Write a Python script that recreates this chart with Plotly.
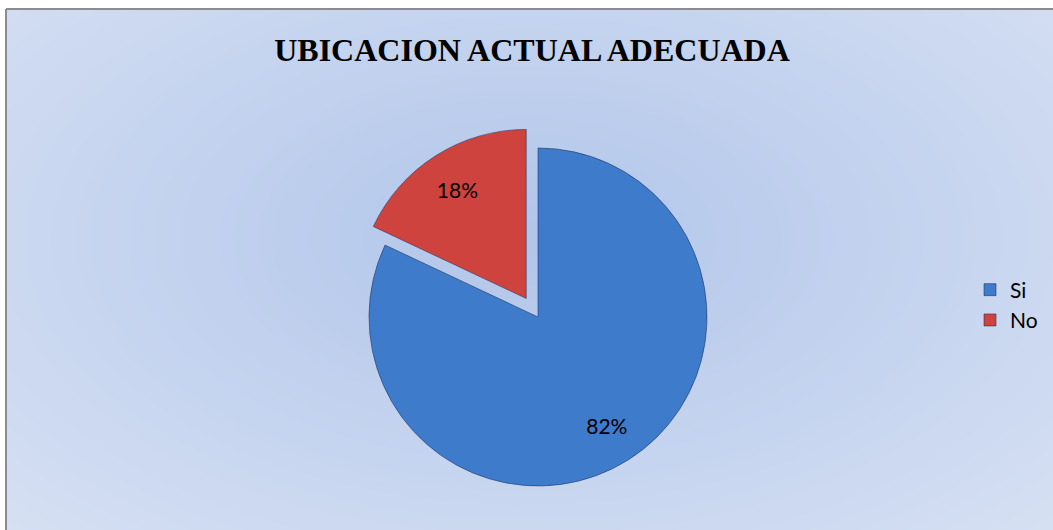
import plotly.graph_objects as go

labels = ["Si", "No"]
values = [82, 18]
colors = ["#3F7BCB", "#CF433E"]
pulls = [0, 0.13]

W, H = 1053, 530
dom = dict(x=[347 / W, 729 / W], y=[1 - 508 / H, 1 - 126 / H])

fig = go.Figure()
fig.add_trace(go.Pie(
    labels=labels, values=values, sort=False, direction="clockwise", rotation=0,
    pull=pulls, textinfo="none",
    marker=dict(colors=colors, line=dict(color="rgba(30,50,90,0.55)", width=1)),
    domain=dom, hoverinfo="label+percent",
))
# transparent ring carrying the percentage labels (places them at ~3/4 radius)
fig.add_trace(go.Pie(
    labels=labels, values=values, sort=False, direction="clockwise", rotation=0,
    pull=pulls, hole=0.52, showlegend=False,
    texttemplate="%{percent:.0%}", textposition="inside",
    insidetextorientation="horizontal",
    textfont=dict(family="Lato", size=21, color="black"),
    marker=dict(colors=["rgba(0,0,0,0)"] * 2, line=dict(width=0)),
    domain=dom, hoverinfo="skip",
))

# background radial gradient made from concentric ellipses
shapes = []
n = 70
cx, cy = 0.5, 0.55
for i in range(n):
    t = i / (n - 1)
    rx = 0.85 * (1 - t) + 0.02
    ry = 0.95 * (1 - t) + 0.02
    c0 = (222, 230, 245)
    c1 = (178, 198, 234)
    col = tuple(int(round(c0[k] + (c1[k] - c0[k]) * t)) for k in range(3))
    shapes.append(dict(type="circle", xref="paper", yref="paper",
                       x0=cx - rx, x1=cx + rx, y0=cy - ry, y1=cy + ry,
                       fillcolor="rgb(%d,%d,%d)" % col, line=dict(width=0), layer="below"))
# white margins top and left
shapes.append(dict(type="rect", xref="paper", yref="paper", x0=-0.1, x1=1.1,
                   y0=1 - 9 / H, y1=1.2, fillcolor="white", line=dict(width=0), layer="below"))
shapes.append(dict(type="rect", xref="paper", yref="paper", x0=-0.1, x1=6 / W,
                   y0=-0.2, y1=1.2, fillcolor="white", line=dict(width=0), layer="below"))
# border lines (left and top)
shapes.append(dict(type="line", xref="paper", yref="paper", x0=6 / W, x1=1.1,
                   y0=1 - 9 / H, y1=1 - 9 / H, line=dict(color="#8C8C8C", width=2), layer="below"))
shapes.append(dict(type="line", xref="paper", yref="paper", x0=6 / W, x1=6 / W,
                   y0=-0.2, y1=1 - 9 / H, line=dict(color="#8C8C8C", width=2), layer="below"))

fig.update_layout(
    width=W, height=H,
    margin=dict(l=0, r=0, t=0, b=0),
    paper_bgcolor="white",
    shapes=shapes,
    title=dict(text="<b>UBICACION ACTUAL ADECUADA</b>", x=532 / W, xanchor="center",
               y=1 - 50 / H, yanchor="middle",
               font=dict(family="Liberation Serif", size=32, color="black")),
    legend=dict(x=970 / W, xanchor="left", y=1 - 305 / H, yanchor="middle",
                font=dict(family="Lato", size=21, color="black"),
                bgcolor="rgba(0,0,0,0)"),
    showlegend=True,
)

fig.write_html("out.html", config={"displayModeBar": False},
               post_script="document.body.style.margin='0';document.body.style.overflow='hidden';")
